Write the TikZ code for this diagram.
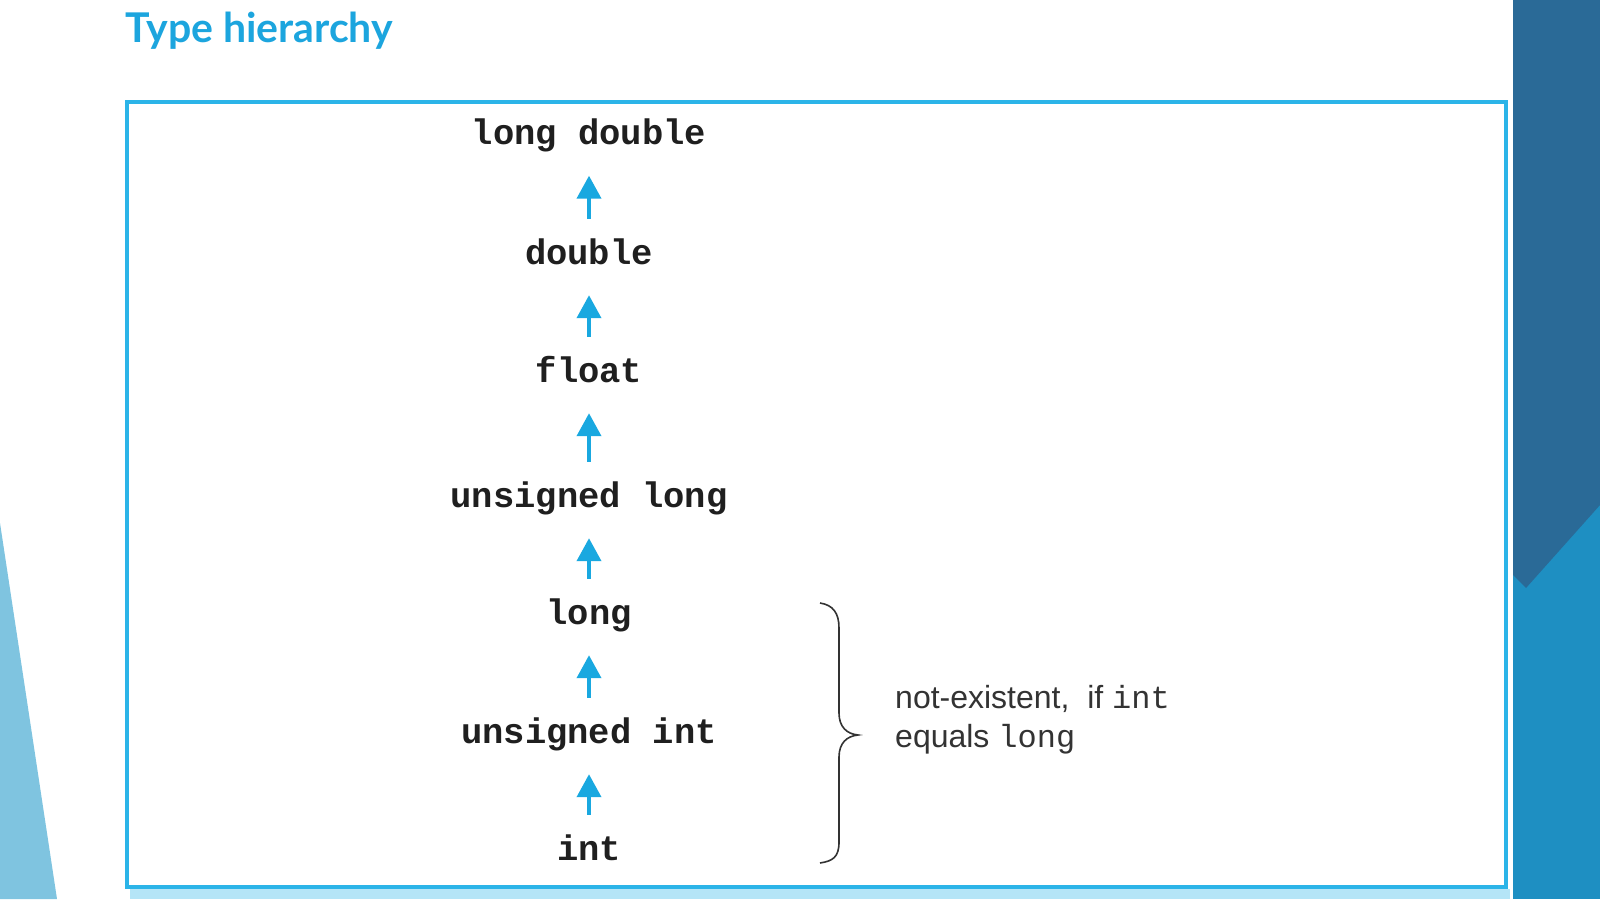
\documentclass[tikz,border=0pt]{standalone}
\usepackage{fontspec}
\setmainfont{Liberation Sans}
\setmonofont{Liberation Mono}
\newfontfamily\titlefont{Lato}
\usetikzlibrary{arrows.meta}
\definecolor{arrowc}{HTML}{19A8E0}
\definecolor{boxc}{HTML}{2BB4E8}
\definecolor{titlec}{HTML}{1CA5DE}
\definecolor{darkband}{HTML}{2A6A97}
\definecolor{lightband}{HTML}{1E8FC2}
\definecolor{tri}{HTML}{7FC4E0}
\begin{document}
\begin{tikzpicture}[x=1pt,y=-1pt,
  typ/.style={font=\fontsize{35.5}{40}\selectfont\ttfamily\bfseries, text=black!88,
    inner sep=0pt, text height=25pt, text depth=10pt, anchor=base},
  up/.style={-{Triangle[width=24pt,length=23pt]}, line width=4pt, draw=arrowc,
    shorten <=20pt, shorten >=21pt},
  note/.style={font=\fontsize{32}{38.5}\selectfont, text=black!80, inner sep=0pt,
    align=left, anchor=base west},
  bracec/.style={draw=black!80, line width=1.6pt}]
\useasboundingbox (0,0) rectangle (1600,899);
\fill[white] (0,0) rectangle (1600,899);
% decorations
\fill[tri] (0,523) -- (57,899) -- (0,899) -- cycle;
\fill[lightband] (1513,0) rectangle (1600,899);
\fill[darkband] (1513,0) -- (1600,0) -- (1600,505) -- (1526,588) -- (1513,575) -- cycle;
\fill[boxc!35] (130,889) rectangle (1510,899);
% title
\node[font=\titlefont\bfseries\fontsize{41}{48}\selectfont, text=titlec, anchor=base west, inner sep=0pt]
  (title) at (125,43) {Type hierarchy};
% frame
\draw[boxc, line width=4pt] (127,102) rectangle (1506,887);
% types
\node[typ] (ld) at (589,144.5) {long double};
\node[typ] (d)  at (589,264) {double};
\node[typ] (f)  at (589,382) {float};
\node[typ] (ul) at (589,507) {unsigned long};
\node[typ] (l)  at (589,624) {long};
\node[typ] (ui) at (589,743) {unsigned int};
\node[typ] (i)  at (589,860) {int};
\draw[up] (d.north) -- (ld.south);
\draw[up] (f.north) -- (d.south);
\draw[up] (ul.north) -- (f.south);
\draw[up] (l.north) -- (ul.south);
\draw[up] (ui.north) -- (l.south);
\draw[up] (i.north) -- (ui.south);
% brace
\draw[bracec] (820,603) .. controls (833,605) and (839,613) .. (839,628) -- (839,713)
  .. controls (839,727) and (847,734) .. (858,735)
  .. controls (847,736) and (839,743) .. (839,757) -- (839,842)
  .. controls (839,857) and (833,861) .. (820,863);
\node[note] (nt) at (895,747) {not-existent,\ \ if \texttt{int}\\equals \texttt{long}};
\end{tikzpicture}
\end{document}
